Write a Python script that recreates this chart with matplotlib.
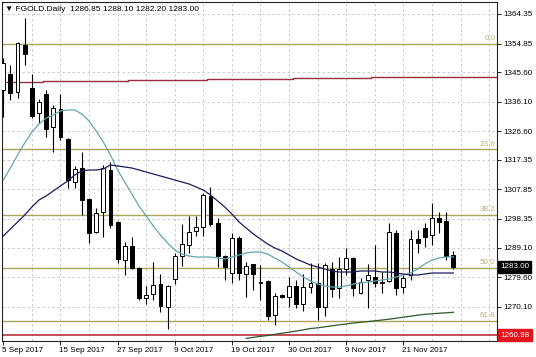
import matplotlib
matplotlib.use("Agg")
import matplotlib.pyplot as plt
import matplotlib.transforms as mtransforms
import numpy as np

# ---------------- data ----------------
opens = [1339.88, 1345.03, 1339.23, 1354.37, 1340.52, 1332.47, 1338.59, 1327.96, 1333.76, 1324.10,
         1310.25, 1314.76, 1304.78, 1294.15, 1300.59, 1314.12, 1297.37, 1285.14, 1289.65, 1282.56,
         1272.90, 1274.19, 1277.41, 1270.00, 1279.02, 1286.47, 1289.97, 1294.50, 1295.76, 1305.75,
         1297.05, 1286.47, 1280.95, 1292.23, 1280.63, 1283.85, 1277.73, 1278.38, 1267.43, 1273.87,
         1273.22, 1276.77, 1270.97, 1276.45, 1277.73, 1270.00, 1282.24, 1276.12, 1282.24, 1285.78,
         1274.51, 1278.70, 1279.67, 1277.73, 1278.38, 1293.83, 1276.45, 1280.31, 1291.90, 1295.44,
         1293.19, 1298.66, 1297.70, 1286.85]
highs = [1350.18, 1347.93, 1355.20, 1363.06, 1345.03, 1336.98, 1339.88, 1335.05, 1338.59, 1324.30,
         1315.41, 1319.91, 1305.00, 1301.89, 1315.73, 1316.69, 1297.60, 1290.94, 1292.55, 1282.80,
         1276.77, 1284.49, 1280.63, 1277.00, 1287.42, 1296.73, 1299.30, 1299.30, 1306.71, 1308.64,
         1298.66, 1286.70, 1293.83, 1292.87, 1284.49, 1284.00, 1283.53, 1278.60, 1274.51, 1274.20,
         1279.67, 1278.70, 1280.63, 1284.17, 1284.17, 1284.17, 1284.49, 1286.10, 1289.00, 1286.00,
         1279.34, 1283.85, 1289.97, 1281.27, 1297.05, 1294.80, 1280.31, 1294.80, 1294.80, 1297.05,
         1303.49, 1300.59, 1300.59, 1288.10]
lows = [1331.18, 1336.66, 1337.30, 1347.93, 1330.86, 1329.25, 1324.76, 1319.91, 1323.78, 1308.33,
        1308.33, 1299.63, 1290.62, 1293.83, 1292.55, 1295.44, 1284.17, 1280.31, 1282.30, 1272.26,
        1270.97, 1272.26, 1268.41, 1262.92, 1277.41, 1283.20, 1287.40, 1292.90, 1292.87, 1296.08,
        1282.88, 1278.70, 1277.73, 1278.70, 1273.22, 1275.48, 1272.26, 1265.82, 1264.21, 1272.90,
        1270.00, 1269.68, 1268.70, 1274.51, 1265.82, 1267.11, 1273.22, 1272.90, 1280.31, 1273.55,
        1274.30, 1269.68, 1276.45, 1274.51, 1278.10, 1273.87, 1274.51, 1278.70, 1287.40, 1289.32,
        1289.97, 1293.83, 1285.14, 1282.20]
closes = [1348.57, 1338.92, 1355.00, 1351.47, 1331.50, 1336.01, 1327.32, 1334.08, 1324.76, 1310.90,
          1314.44, 1304.46, 1293.83, 1300.27, 1314.76, 1296.41, 1285.46, 1289.65, 1282.56, 1272.90,
          1273.87, 1277.09, 1270.35, 1276.77, 1286.47, 1290.30, 1294.15, 1295.80, 1306.07, 1296.73,
          1286.47, 1282.88, 1292.23, 1280.95, 1283.20, 1280.63, 1278.05, 1267.11, 1273.55, 1273.22,
          1276.77, 1270.97, 1276.45, 1277.73, 1270.00, 1283.53, 1275.80, 1282.24, 1285.78, 1276.12,
          1278.05, 1280.31, 1277.73, 1278.05, 1294.15, 1276.12, 1279.34, 1291.90, 1290.60, 1292.55,
          1298.66, 1297.37, 1286.47, 1283.00]

ma_fast = [1310.90, 1314.76, 1318.95, 1322.81, 1326.35, 1328.93, 1330.86, 1331.83, 1333.12, 1333.44,
           1333.44, 1332.15, 1329.90, 1326.68, 1323.13, 1318.95, 1314.12, 1310.25, 1306.39, 1302.52,
           1299.31, 1296.08, 1293.19, 1290.61, 1288.36, 1287.07, 1286.43, 1286.10, 1286.10, 1286.10,
           1285.78, 1285.46, 1286.10, 1286.75, 1287.39, 1287.71, 1287.71, 1287.07, 1285.78, 1284.49,
           1282.88, 1281.27, 1279.66, 1278.37, 1277.41, 1276.76, 1276.44, 1276.44, 1276.76, 1277.41,
           1277.73, 1278.05, 1278.37, 1278.70, 1279.02, 1279.66, 1280.31, 1280.95, 1282.24, 1283.85,
           1285.14, 1285.78, 1286.10, 1286.10]
ma_mid = [1292.87, 1295.12, 1297.37, 1299.63, 1302.20, 1304.46, 1305.75, 1307.36, 1308.97, 1310.58,
          1312.51, 1313.80, 1314.12, 1314.12, 1314.44, 1315.73, 1315.41, 1315.09, 1314.76, 1314.12,
          1313.47, 1312.83, 1312.19, 1311.54, 1310.90, 1310.25, 1309.61, 1308.64, 1307.68, 1306.07,
          1304.14, 1302.20, 1299.95, 1297.37, 1295.44, 1293.51, 1291.90, 1290.29, 1289.00, 1288.04,
          1286.75, 1285.46, 1284.49, 1283.53, 1282.88, 1282.24, 1281.60, 1281.27, 1281.27, 1281.27,
          1281.60, 1281.60, 1281.60, 1281.27, 1281.27, 1280.95, 1280.63, 1280.31, 1280.31, 1280.63,
          1280.95, 1280.95, 1280.95, 1280.95]
nan = float("nan")
ma_slow = [nan] * 34 + [1259.92, 1260.24, 1260.56, 1260.82, 1261.21, 1261.57, 1261.89, 1262.27, 1262.66, 1263.08,
                        1263.30, 1263.63, 1263.95, 1264.27, 1264.53, 1264.85, 1265.08, 1265.30, 1265.56, 1265.82,
                        1266.08, 1266.40, 1266.72, 1267.04, 1267.37, 1267.65, 1267.82, 1268.01, 1268.14, 1268.30]
ma_long_x = [-0.5, 5.5, 17.5, 28.5, 40.5, 51.5, 63.5, 69.5]
ma_long = [1342.55, 1342.93, 1343.10, 1343.42, 1343.64, 1343.97, 1344.06, 1344.06]

fib_labels = ["0.0", "23.6", "38.2", "50.0", "61.8"]
fib_prices = [1354.85, 1320.77, 1299.69, 1282.65, 1265.61]
support_level = 1260.98
last_price = 1283.00

y_ticks = [1364.35, 1354.85, 1345.60, 1336.10, 1326.60, 1317.35, 1307.85, 1298.35, 1289.10, 1279.60, 1270.10]
y_tick_labels = ["1364.35", "1354.85", "1345.60", "1336.10", "1326.60", "1317.35", "1307.85",
                 "1298.35", "1289.10", "1279.60", "1270.10"]
date_labels = ["5 Sep 2017", "15 Sep 2017", "27 Sep 2017", "9 Oct 2017", "19 Oct 2017",
               "30 Oct 2017", "9 Nov 2017", "21 Nov 2017"]
title = "\u25BC FGOLD.Daily  1286.85 1288.10 1282.20 1283.00"

# ---------------- plot ----------------
plt.rcParams['font.family'] = ['Liberation Sans', 'DejaVu Sans']
W, H = 536, 357
fig = plt.figure(figsize=(W / 100, H / 100), dpi=100)
fig.patch.set_facecolor("white")
ax = fig.add_axes([1.7 / W, (H - 341) / H, (497 - 1.7) / W, (341 - 1.7) / H])
ax.set_facecolor("white")

n = len(opens)
idx = np.arange(n)
o = np.array(opens); h = np.array(highs); l = np.array(lows); c = np.array(closes)

ax.set_xlim(-0.22, 69.1)
ax.set_ylim(1259.06, 1368.31)

# ticks
ax.set_yticks(y_ticks)
ax.set_yticklabels(y_tick_labels)
ax.set_xticks(np.arange(0, 57, 8))
ax.set_xticklabels(date_labels)
ax.grid(False)
for yv in y_ticks:
    ax.axhline(yv, color="#c4c4c4", lw=0.6, ls=(0, (3, 3)), zorder=0.5)
for xv in np.arange(4, 70, 4):
    ax.axvline(xv, color="#c4c4c4", lw=0.6, ls=(0, (3, 3)), zorder=0.5)

# fib levels
for lab, p in zip(fib_labels, fib_prices):
    ax.axhline(p, color="#aaa45c", lw=1.0, zorder=1.5)
    ax.text(68.9, p + 0.5, lab, color="#bfae74", fontsize=5.8, ha="right", va="bottom", zorder=2)

# support line
ax.axhline(support_level, color="#b8303e", lw=1.2, zorder=1.6)

# long MA step line
ax.step(ma_long_x, ma_long, where="post", color="#9b2d3f", lw=1.0, zorder=2)

# candles
ax.vlines(idx, l, h, color="black", lw=0.8, zorder=3)
up = c >= o
bottoms = np.minimum(o, c)
heights = np.maximum(np.abs(c - o), 0.15)
ax.bar(idx, heights, bottom=bottoms, width=0.54,
       color=np.where(up, "white", "black"), edgecolor="black", linewidth=0.7, zorder=4)

# MAs
ax.plot(idx, ma_fast, color="#62a6b0", lw=0.9, zorder=5)
ax.plot(idx, ma_mid, color="#1c1c5e", lw=0.9, zorder=5)
ax.plot(idx, ma_slow, color="#2e5a2e", lw=0.9, zorder=5)

# axes styling
ax.yaxis.tick_right()
ax.tick_params(axis="y", which="major", length=3, width=0.6, labelsize=5.8, pad=1.5, colors="black")
ax.tick_params(axis="x", which="major", length=3, width=0.6, labelsize=5.8, pad=1.5, colors="black")
offset = mtransforms.ScaledTranslation(-1 / 100, 0, fig.dpi_scale_trans)
for lbl in ax.get_xticklabels():
    lbl.set_ha("left")
    lbl.set_transform(lbl.get_transform() + offset)
for s in ax.spines.values():
    s.set_color("#222222")
    s.set_linewidth(0.8)

# price boxes on right
trans = mtransforms.blended_transform_factory(ax.transAxes, ax.transData)
ax.text(1.006, last_price, "1283.00", transform=trans, fontsize=5.8, color="white",
        ha="left", va="center", zorder=10, clip_on=False,
        bbox=dict(boxstyle="square,pad=0.3", fc="black", ec="black"))
ax.text(1.006, support_level, "1260.98", transform=trans, fontsize=5.8, color="white",
        ha="left", va="center", zorder=10, clip_on=False,
        bbox=dict(boxstyle="square,pad=0.3", fc="#e3141e", ec="#e3141e"))

# title
fig.text(5 / W, 1 - 9.5 / H, title, fontsize=6.0, color="black", ha="left", va="center")

fig.savefig("out.png", dpi=100, facecolor="white")
